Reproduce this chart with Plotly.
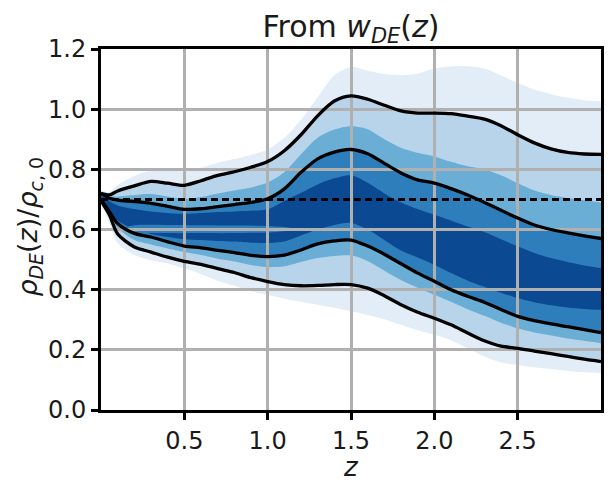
import plotly.graph_objects as go

# ---------------- data ----------------
z = [0.0, 0.05, 0.1, 0.2, 0.3, 0.4, 0.5, 0.6, 0.7, 0.8, 0.9, 1.0, 1.1, 1.2, 1.3, 1.4, 1.5,
     1.6, 1.7, 1.8, 1.9, 2.0, 2.1, 2.2, 2.3, 2.4, 2.5, 2.6, 2.7, 2.8, 2.9, 3.0]

# 2.5 sigma envelope
up25 = [0.73, 0.725, 0.748, 0.778, 0.795, 0.795, 0.794, 0.805, 0.822, 0.834, 0.848, 0.866, 0.905, 0.965, 1.04, 1.112, 1.140,
        1.128, 1.117, 1.113, 1.118, 1.135, 1.143, 1.143, 1.135, 1.112, 1.087, 1.065, 1.05, 1.038, 1.03, 1.026]
lo25 = [0.69, 0.62, 0.555, 0.515, 0.498, 0.487, 0.471, 0.452, 0.43, 0.413, 0.395, 0.383, 0.37, 0.36, 0.35, 0.34, 0.328,
        0.316, 0.302, 0.283, 0.265, 0.25, 0.232, 0.205, 0.178, 0.158, 0.15, 0.142, 0.136, 0.13, 0.126, 0.122]
# 2 sigma
up2 = [0.72, 0.715, 0.728, 0.745, 0.760, 0.754, 0.747, 0.762, 0.78, 0.792, 0.807, 0.826, 0.862, 0.915, 0.978, 1.027, 1.044,
       1.033, 1.013, 0.994, 0.987, 0.987, 0.985, 0.977, 0.967, 0.945, 0.915, 0.888, 0.868, 0.856, 0.851, 0.850]
lo2 = [0.695, 0.649, 0.585, 0.542, 0.525, 0.508, 0.494, 0.484, 0.47, 0.457, 0.44, 0.427, 0.417, 0.413, 0.414, 0.417, 0.417,
       0.405, 0.38, 0.35, 0.325, 0.305, 0.283, 0.256, 0.23, 0.212, 0.205, 0.196, 0.187, 0.178, 0.169, 0.161]
# 1.5 sigma
up15 = [0.72, 0.71, 0.71, 0.715, 0.718, 0.71, 0.702, 0.708, 0.72, 0.73, 0.74, 0.756, 0.79, 0.85, 0.905, 0.932, 0.943,
        0.933, 0.9, 0.872, 0.855, 0.843, 0.825, 0.81, 0.8, 0.78, 0.754, 0.73, 0.715, 0.705, 0.697, 0.69]
lo15 = [0.70, 0.65, 0.605, 0.565, 0.55, 0.537, 0.525, 0.515, 0.503, 0.494, 0.482, 0.475, 0.478, 0.492, 0.505, 0.512, 0.514,
        0.495, 0.463, 0.432, 0.406, 0.383, 0.36, 0.335, 0.313, 0.29, 0.272, 0.258, 0.248, 0.238, 0.23, 0.222]
# 1 sigma
up1 = [0.72, 0.704, 0.698, 0.693, 0.687, 0.677, 0.667, 0.669, 0.676, 0.683, 0.69, 0.702, 0.735, 0.79, 0.835, 0.857, 0.866,
       0.852, 0.82, 0.788, 0.765, 0.754, 0.736, 0.715, 0.69, 0.664, 0.638, 0.615, 0.6, 0.589, 0.579, 0.570]
lo1 = [0.70, 0.66, 0.62, 0.587, 0.575, 0.559, 0.545, 0.539, 0.531, 0.523, 0.514, 0.51, 0.515, 0.532, 0.552, 0.562, 0.565,
       0.545, 0.518, 0.486, 0.455, 0.428, 0.4, 0.378, 0.358, 0.334, 0.311, 0.297, 0.286, 0.277, 0.267, 0.257]
# 0.5 sigma
up05 = [0.715, 0.695, 0.68, 0.668, 0.66, 0.655, 0.652, 0.655, 0.658, 0.66, 0.662, 0.667, 0.695, 0.722, 0.75, 0.77, 0.78,
        0.755, 0.72, 0.69, 0.668, 0.649, 0.63, 0.61, 0.592, 0.568, 0.544, 0.522, 0.505, 0.492, 0.48, 0.471]
lo05 = [0.705, 0.66, 0.63, 0.6, 0.585, 0.575, 0.568, 0.565, 0.562, 0.56, 0.556, 0.555, 0.56, 0.58, 0.6, 0.615, 0.622,
        0.6, 0.565, 0.53, 0.507, 0.483, 0.455, 0.43, 0.41, 0.39, 0.372, 0.358, 0.348, 0.341, 0.336, 0.333]
# lighter island inside the 0.5 sigma region
island_z = [0.12, 0.2, 0.4, 0.6, 0.8, 1.0, 1.1, 1.18]
island_hi = [0.604, 0.614, 0.615, 0.614, 0.613, 0.612, 0.608, 0.601]
island_lo = [0.600, 0.590, 0.588, 0.588, 0.588, 0.590, 0.594, 0.599]

lcdm_value = 0.7

x_ticks = [0.5, 1.0, 1.5, 2.0, 2.5]
y_ticks = [0.0, 0.2, 0.4, 0.6, 0.8, 1.0, 1.2]

band_colors = ['#e2edf8', '#b7d4ea', '#6aaed6', '#2f7ebc', '#0b4a92']

# ---------------- figure ----------------
fig = go.Figure()

bands = [(lo25, up25), (lo2, up2), (lo15, up15), (lo1, up1), (lo05, up05)]
for (lo, hi), col in zip(bands, band_colors):
    fig.add_trace(go.Scatter(x=z, y=lo, mode='lines', line=dict(width=0, shape='spline', smoothing=0.8),
                             hoverinfo='skip', showlegend=False, xaxis='x', yaxis='y'))
    fig.add_trace(go.Scatter(x=z, y=hi, mode='lines', line=dict(width=0, shape='spline', smoothing=0.8),
                             fill='tonexty', fillcolor=col, hoverinfo='skip', showlegend=False,
                             xaxis='x', yaxis='y'))

fig.add_trace(go.Scatter(x=island_z, y=island_lo, mode='lines', line=dict(width=0, shape='spline', smoothing=0.8),
                         hoverinfo='skip', showlegend=False, xaxis='x', yaxis='y'))
fig.add_trace(go.Scatter(x=island_z, y=island_hi, mode='lines', line=dict(width=0, shape='spline', smoothing=0.8),
                         fill='tonexty', fillcolor=band_colors[3], hoverinfo='skip', showlegend=False,
                         xaxis='x', yaxis='y'))

# contour lines (second subplot so the grid sits between fills and lines)
for curve in (up2, up1, lo1, lo2):
    fig.add_trace(go.Scatter(x=z, y=curve, mode='lines',
                             line=dict(color='black', width=3.3, shape='spline', smoothing=0.8),
                             showlegend=False, xaxis='x2', yaxis='y2'))

fig.add_trace(go.Scatter(x=[z[0], z[-1]], y=[lcdm_value, lcdm_value], mode='lines',
                         line=dict(color='black', width=3, dash='7px,4px'),
                         showlegend=False, xaxis='x2', yaxis='y2'))

font_family = 'DejaVu Sans'
axis_common = dict(showline=True, linecolor='black', linewidth=3, mirror=True,
                   ticks='outside', ticklen=7, tickwidth=2.5, tickcolor='black',
                   showgrid=True, gridcolor='#b0b0b0', gridwidth=3, zeroline=False,
                   tickfont=dict(family=font_family, size=24, color='#1a1a1a'))

fig.update_layout(
    width=615, height=484,
    margin=dict(l=101, r=11, t=49, b=74),
    paper_bgcolor='white', plot_bgcolor='rgba(0,0,0,0)',
    showlegend=False,
    xaxis=dict(domain=[0, 1], range=[0, 3], visible=False, showgrid=False),
    yaxis=dict(domain=[0, 1], range=[0, 1.2], visible=False, showgrid=False),
    xaxis2=dict(domain=[0, 1], anchor='y2', range=[0, 3], tickvals=x_ticks,
                ticktext=[f'{v:.1f}' for v in x_ticks], **axis_common),
    yaxis2=dict(domain=[0, 1], anchor='x2', range=[0, 1.2], tickvals=y_ticks,
                ticktext=[f'{v:.1f}' for v in y_ticks], **axis_common),
    title=dict(text='From <i>w</i><sub><i>DE</i></sub>(<i>z</i>)', x=0.5, xref='paper',
               y=1 - 26 / 484, yref='container', yanchor='middle', xanchor='center',
               font=dict(family=font_family, size=30, color='#1a1a1a')),
    annotations=[
        dict(text='<i>z</i>', x=0.5, y=-0.158, xref='paper', yref='paper', showarrow=False,
             xanchor='center', yanchor='middle', font=dict(family=font_family, size=26, color='#1a1a1a')),
        dict(text='<i>ρ</i><sub><i>DE</i></sub>(<i>z</i>)/<i>ρ</i><sub><i>c</i>, 0</sub>',
             x=-0.142, y=0.508, xref='paper', yref='paper', showarrow=False, textangle=-90,
             xanchor='center', yanchor='middle', font=dict(family=font_family, size=27, color='#1a1a1a')),
    ],
)

fig.write_html('out.html')
